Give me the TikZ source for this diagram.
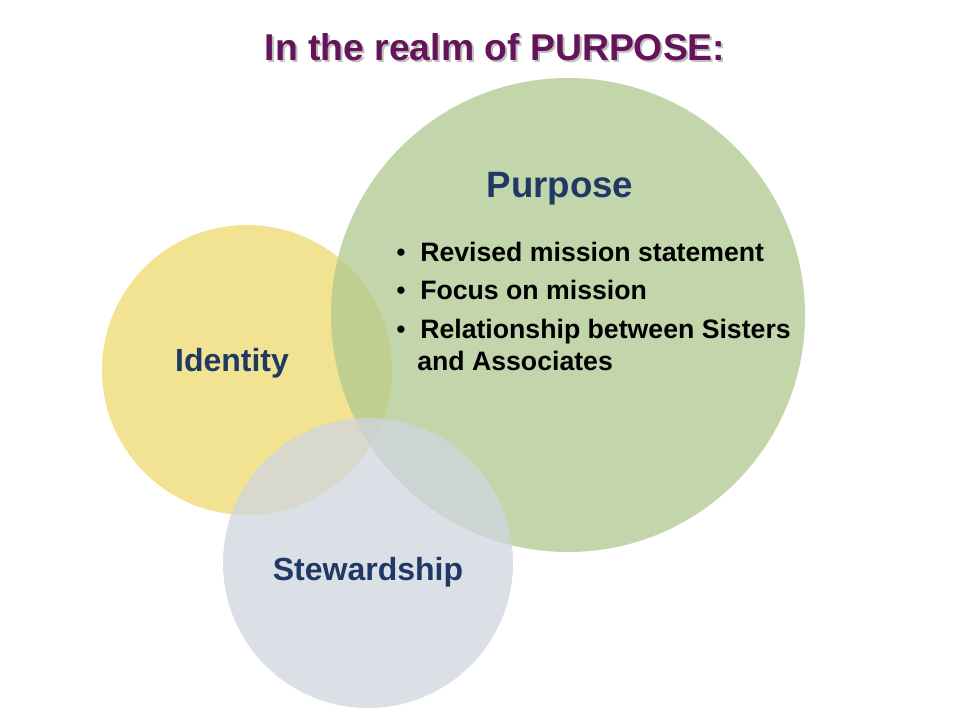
\documentclass[tikz,border=0pt]{standalone}
\usepackage{fontspec}
\setmainfont{Liberation Sans}
\definecolor{idc}{RGB}{238,218,112}
\definecolor{puc}{RGB}{176,200,142}
\definecolor{stc}{RGB}{208,214,224}
\definecolor{titlec}{RGB}{102,20,90}
\definecolor{bluec}{RGB}{31,56,100}
\tikzset{
  circ/.style={fill opacity=0.75},
  label/.style={font=\bfseries\fontsize{24pt}{28pt}\selectfont, text=bluec, inner sep=0pt, anchor=base},
  bul/.style={font=\bfseries\fontsize{20pt}{24pt}\selectfont, text=black, inner sep=0pt, anchor=base west},
  dot/.style={font=\fontsize{20pt}{24pt}\selectfont, text=black, inner sep=0pt, anchor=base west},
}
\begin{document}
\begin{tikzpicture}[x=0.75pt,y=-0.75pt]
\useasboundingbox (0,0) rectangle (960,720);
\fill[white] (0,0) rectangle (960,720);
\fill[idc,circ] (247,370) circle (145);
\fill[puc,circ] (568,315) circle (237);
\fill[stc,circ] (368,563) circle (145);
\node[font=\bfseries\fontsize{28pt}{33pt}\selectfont, text=black!25, inner sep=0pt, anchor=base] (tshadow) at (497,63) {In the realm of PURPOSE:};
\node[font=\bfseries\fontsize{28pt}{33pt}\selectfont, text=titlec, inner sep=0pt, anchor=base] (title) at (495,61) {In the realm of PURPOSE:};
\node[label, font=\bfseries\fontsize{27.5pt}{32pt}\selectfont] (purpose) at (560,198) {Purpose};
\node[label] (identity) at (232,371) {Identity};
\node[label] (stew) at (368,580) {Stewardship};
\node[dot] (b1) at (396,262) {•};
\node[bul] (l1) at (420,262) {Revised mission statement};
\node[dot] (b2) at (396,300) {•};
\node[bul] (l2) at (420,300) {Focus on mission};
\node[dot] (b3) at (396,338) {•};
\node[bul] (l3) at (420,338) {Relationship between Sisters};
\node[bul] (l4) at (417,370) {and Associates};
\end{tikzpicture}
\end{document}
